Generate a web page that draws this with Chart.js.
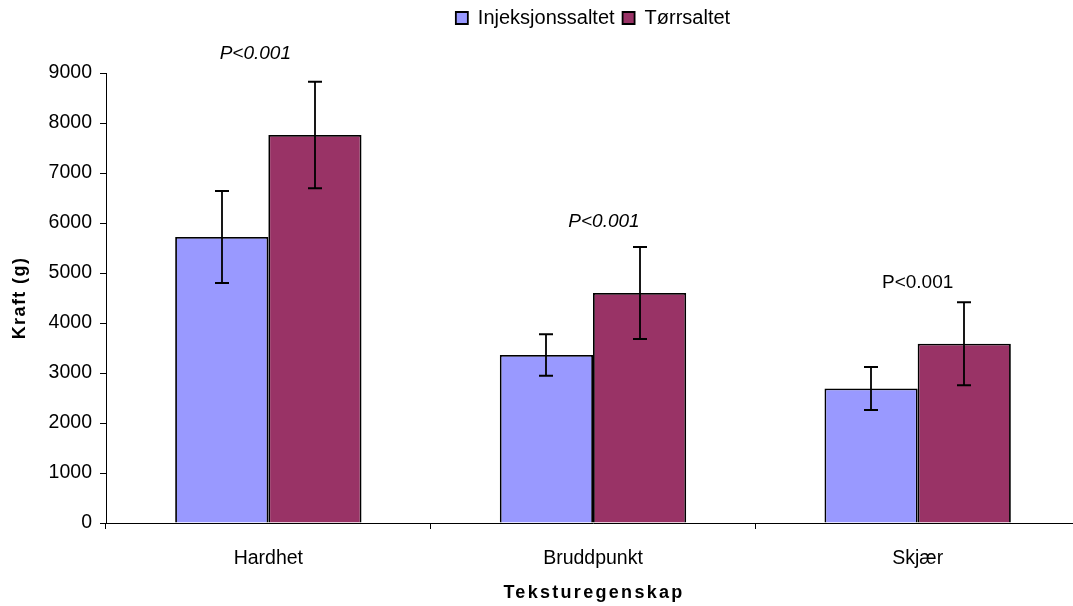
<!DOCTYPE html>
<html><head><meta charset="utf-8">
<script src="https://cdn.jsdelivr.net/npm/chart.js@4/dist/chart.umd.min.js"></script>
<style>html,body{margin:0;padding:0;overflow:hidden;background:#fff}canvas{display:block}</style>
</head><body>
<canvas id="c" width="1080" height="606"></canvas>
<script>
const categories = ['Hardhet', 'Bruddpunkt', 'Skjær'];
const seriesNames = ['Injeksjonssaltet', 'Tørrsaltet'];
const injValues = [5720, 3360, 2690];
const injErrors = [920, 415, 430];
const torrValues = [7760, 4600, 3585];
const torrErrors = [1065, 920, 830];
const pLabels = ['P<0.001', 'P<0.001', 'P<0.001'];
const pLabelValues = [9380, 6020, 4800];
const pLabelItalic = [true, true, false];
const yMin = 0, yMax = 9000, yStep = 1000;
const xTitle = 'Teksturegenskap';
const yTitle = 'Kraft (g)';

const FONT = "'Liberation Sans', Arial, sans-serif";
Chart.defaults.font.family = FONT;
Chart.defaults.color = '#000';

const extras = {
  id: 'extras',
  beforeLayout(chart) {
    const lg = chart.legend;
    if (lg && !lg._patched) {
      const f = lg.fit;
      lg.fit = function () { f.call(this); this.height = 73; };
      lg._patched = true;
    }
  },
  afterDatasetsDraw(chart) {
    const ctx = chart.ctx, ys = chart.scales.y;
    const errs = [injErrors, torrErrors];
    const vals = [injValues, torrValues];
    ctx.save();
    ctx.strokeStyle = '#000';
    ctx.lineWidth = 1.8;
    for (let d = 0; d < 2; d++) {
      const meta = chart.getDatasetMeta(d);
      meta.data.forEach((bar, i) => {
        const x = Math.round(bar.x);
        const t = ys.getPixelForValue(vals[d][i] + errs[d][i]);
        const b = ys.getPixelForValue(vals[d][i] - errs[d][i]);
        ctx.beginPath();
        ctx.moveTo(x, t); ctx.lineTo(x, b);
        ctx.moveTo(x - 7, t); ctx.lineTo(x + 7, t);
        ctx.moveTo(x - 7, b); ctx.lineTo(x + 7, b);
        ctx.stroke();
      });
    }
    ctx.restore();
  },
  afterDraw(chart, args, opts) {
    const ctx = chart.ctx, xs = chart.scales.x, ys = chart.scales.y, ca = chart.chartArea;
    ctx.save();
    ctx.fillStyle = '#000';
    ctx.textAlign = 'center';
    ctx.textBaseline = 'middle';
    pLabels.forEach((t, i) => {
      ctx.font = (pLabelItalic[i] ? 'italic ' : '') + '19px ' + FONT;
      ctx.fillText(t, xs.getPixelForValue(i) + opts.pOffsets[i], ys.getPixelForValue(pLabelValues[i]));
    });
    ctx.font = 'bold 18px ' + FONT;
    ctx.letterSpacing = '2.3px';
    ctx.fillText(xTitle, 594, 593);
    ctx.letterSpacing = '1.4px';
    ctx.translate(20, (ca.top + ca.bottom) / 2);
    ctx.rotate(-Math.PI / 2);
    ctx.fillText(yTitle, 0, 0);
    ctx.restore();
  }
};

new Chart(document.getElementById('c'), {
  type: 'bar',
  data: {
    labels: categories,
    datasets: [
      { label: seriesNames[0], data: injValues, backgroundColor: '#9999FF', borderColor: '#000', borderWidth: 1.8 },
      { label: seriesNames[1], data: torrValues, backgroundColor: '#993366', borderColor: '#000', borderWidth: 1.8 }
    ]
  },
  options: {
    responsive: false,
    animation: false,
    layout: { padding: 0 },
    datasets: { bar: { barPercentage: 1, categoryPercentage: 0.574 } },
    plugins: {
      tooltip: { enabled: false },
      legend: {
        position: 'top',
        fullSize: false,
        labels: { boxWidth: 12, boxHeight: 12, padding: 8, color: '#000', font: { size: 20 } }
      },
      extras: { pOffsets: [-13, 11, 0] }
    },
    scales: {
      x: {
        afterFit: s => { s.height = 83; },
        grid: { offset: true, drawOnChartArea: false, drawTicks: true, tickLength: 6, color: '#000' },
        border: { display: true, color: '#000', width: 1 },
        ticks: { padding: 18, color: '#000', font: { size: 19.5 } }
      },
      y: {
        min: yMin, max: yMax,
        afterFit: s => { s.width = 106; },
        grid: { drawOnChartArea: false, drawTicks: true, tickLength: 6, color: '#000' },
        border: { display: true, color: '#000', width: 1 },
        ticks: { stepSize: yStep, padding: 8, color: '#000', font: { size: 19.5 }, callback: v => String(v) }
      }
    }
  },
  plugins: [extras]
});
</script>
</body></html>
